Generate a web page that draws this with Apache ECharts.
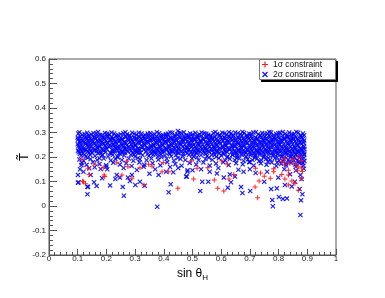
<!DOCTYPE html>
<html><head><meta charset="utf-8">
<script src="https://cdn.jsdelivr.net/npm/echarts@6/dist/echarts.min.js"></script>
<style>html,body{margin:0;padding:0;background:#fff}#c{width:385px;height:298px}</style>
</head><body><div id="c"></div>
<script>
var xTicks = [0,0.1,0.2,0.3,0.4,0.5,0.6,0.7,0.8,0.9,1];
var yTicks = [-0.2,-0.1,0,0.1,0.2,0.3,0.4,0.5,0.6];
var seriesNames = ['1σ constraint','2σ constraint'];

var blueBand = [
[0.102,0.296],[0.116,0.291],[0.133,0.299],[0.147,0.293],[0.164,0.297],[0.178,0.290],[0.195,0.298],[0.210,0.292],[0.227,0.296],[0.241,0.289],[0.259,0.297],[0.272,0.293],[0.290,0.299],[0.304,0.291],[0.322,0.296],[0.335,0.290],[0.353,0.298],[0.367,0.293],[0.384,0.297],[0.398,0.289],[0.415,0.295],[0.430,0.299],[0.447,0.292],[0.461,0.297],[0.479,0.290],[0.492,0.296],[0.510,0.299],[0.524,0.293],[0.541,0.297],[0.555,0.291],[0.573,0.298],[0.586,0.294],[0.604,0.299],[0.618,0.292],[0.635,0.297],[0.649,0.300],[0.667,0.293],[0.680,0.298],[0.698,0.295],[0.712,0.300],[0.729,0.293],[0.743,0.298],[0.761,0.296],[0.774,0.300],[0.792,0.294],[0.805,0.299],[0.823,0.295],[0.837,0.300],[0.854,0.294],[0.868,0.299],[0.885,0.296],
[0.109,0.284],[0.124,0.279],[0.140,0.286],[0.156,0.281],[0.171,0.287],[0.187,0.280],[0.202,0.285],[0.219,0.282],[0.234,0.287],[0.250,0.279],[0.265,0.284],[0.281,0.286],[0.297,0.280],[0.313,0.285],[0.328,0.282],[0.344,0.287],[0.360,0.279],[0.375,0.284],[0.391,0.281],[0.407,0.287],[0.422,0.280],[0.438,0.285],[0.454,0.282],[0.470,0.287],[0.485,0.279],[0.501,0.284],[0.517,0.281],[0.532,0.287],[0.548,0.280],[0.564,0.285],[0.579,0.282],[0.595,0.287],[0.611,0.280],[0.626,0.284],[0.642,0.286],[0.658,0.281],[0.673,0.287],[0.689,0.282],[0.705,0.285],[0.720,0.280],[0.736,0.286],[0.752,0.283],[0.767,0.287],[0.783,0.281],[0.799,0.285],[0.814,0.288],[0.830,0.282],[0.846,0.286],[0.861,0.281],[0.877,0.285],[0.889,0.289],
[0.101,0.271],[0.118,0.266],[0.132,0.273],[0.149,0.268],[0.162,0.274],[0.180,0.267],[0.193,0.272],[0.212,0.269],[0.225,0.275],[0.243,0.266],[0.257,0.271],[0.274,0.274],[0.288,0.268],[0.306,0.273],[0.320,0.266],[0.337,0.272],[0.351,0.269],[0.369,0.275],[0.382,0.267],[0.400,0.272],[0.413,0.269],[0.432,0.274],[0.445,0.267],[0.463,0.271],[0.477,0.274],[0.494,0.268],[0.508,0.273],[0.526,0.266],[0.539,0.272],[0.557,0.269],[0.571,0.275],[0.588,0.267],[0.602,0.272],[0.620,0.269],[0.633,0.274],[0.651,0.268],[0.665,0.273],[0.682,0.270],[0.696,0.275],[0.714,0.268],[0.727,0.273],[0.745,0.270],[0.759,0.275],[0.776,0.268],[0.790,0.273],[0.807,0.270],[0.821,0.275],[0.839,0.269],[0.852,0.274],[0.870,0.270],[0.884,0.273],
[0.108,0.258],[0.125,0.254],[0.139,0.261],[0.155,0.256],[0.172,0.262],[0.186,0.255],[0.203,0.259],[0.218,0.256],[0.233,0.262],[0.251,0.254],[0.264,0.259],[0.282,0.261],[0.296,0.255],[0.312,0.260],[0.329,0.256],[0.343,0.262],[0.361,0.254],[0.374,0.259],[0.392,0.256],[0.406,0.261],[0.423,0.255],[0.437,0.260],[0.455,0.257],[0.469,0.262],[0.486,0.254],[0.500,0.259],[0.518,0.256],[0.531,0.261],[0.549,0.255],[0.563,0.260],[0.580,0.257],[0.594,0.262],[0.612,0.255],[0.625,0.259],[0.643,0.261],[0.657,0.256],[0.674,0.262],[0.688,0.257],[0.706,0.260],[0.719,0.255],[0.737,0.261],[0.751,0.258],[0.768,0.262],[0.782,0.256],[0.800,0.260],[0.813,0.263],[0.831,0.257],[0.845,0.261],[0.862,0.256],[0.876,0.260],[0.888,0.258],
[0.103,0.245],[0.117,0.241],[0.134,0.248],[0.146,0.243],[0.165,0.249],[0.177,0.242],[0.196,0.246],[0.209,0.243],[0.228,0.249],[0.240,0.241],[0.260,0.246],[0.271,0.248],[0.291,0.242],[0.303,0.247],[0.323,0.243],[0.334,0.249],[0.354,0.241],[0.366,0.246],[0.385,0.243],[0.397,0.248],[0.416,0.242],[0.429,0.247],[0.448,0.244],[0.460,0.249],[0.480,0.241],[0.491,0.246],[0.511,0.243],[0.523,0.248],[0.542,0.242],[0.554,0.247],[0.574,0.244],[0.585,0.249],[0.605,0.242],[0.617,0.246],[0.636,0.248],[0.648,0.243],[0.668,0.249],[0.679,0.244],[0.699,0.247],[0.711,0.242],[0.730,0.248],[0.742,0.245],[0.762,0.249],[0.773,0.243],[0.793,0.247],[0.804,0.250],[0.824,0.244],[0.836,0.248],[0.855,0.243],[0.867,0.247],[0.886,0.245],
[0.110,0.232],[0.123,0.228],[0.141,0.235],[0.157,0.230],[0.170,0.236],[0.188,0.229],[0.201,0.233],[0.220,0.230],[0.235,0.236],[0.249,0.228],[0.266,0.233],[0.280,0.235],[0.298,0.229],[0.311,0.234],[0.330,0.230],[0.345,0.236],[0.359,0.228],[0.376,0.233],[0.390,0.230],[0.408,0.235],[0.421,0.229],[0.439,0.234],[0.453,0.231],[0.471,0.236],[0.484,0.228],[0.502,0.233],[0.516,0.230],[0.533,0.235],[0.547,0.229],[0.565,0.234],[0.578,0.231],[0.596,0.236],[0.610,0.229],[0.627,0.233],[0.641,0.235],[0.659,0.230],[0.672,0.236],[0.690,0.231],[0.704,0.234],[0.721,0.229],[0.735,0.235],[0.753,0.232],[0.766,0.236],[0.784,0.230],[0.798,0.234],[0.815,0.237],[0.829,0.231],[0.847,0.235],[0.860,0.230],[0.878,0.234],[0.890,0.232],
[0.104,0.219],[0.119,0.215],[0.135,0.222],[0.150,0.217],[0.166,0.223],[0.181,0.216],[0.197,0.220],[0.213,0.217],[0.229,0.223],[0.244,0.215],[0.256,0.220],[0.275,0.222],[0.292,0.216],[0.307,0.221],[0.319,0.217],[0.338,0.223],[0.355,0.215],[0.371,0.220],[0.386,0.217],[0.401,0.222],[0.418,0.216],[0.433,0.221],[0.449,0.218],[0.464,0.223],[0.481,0.215],[0.496,0.220],[0.512,0.217],[0.527,0.222],[0.543,0.216],[0.558,0.221],[0.575,0.218],[0.590,0.223],[0.606,0.216],[0.621,0.220],[0.637,0.222],[0.652,0.217],[0.669,0.223],[0.684,0.218],[0.700,0.221],[0.715,0.216],[0.731,0.222],[0.746,0.219],[0.763,0.223],[0.778,0.217],[0.794,0.221],[0.809,0.224],[0.825,0.218],[0.840,0.222],[0.856,0.217],[0.871,0.221],[0.887,0.219],
[0.112,0.206],[0.128,0.201],[0.143,0.209],[0.160,0.204],[0.184,0.207],[0.206,0.202],[0.222,0.208],[0.238,0.203],[0.262,0.206],[0.285,0.209],[0.300,0.202],[0.326,0.207],[0.348,0.204],[0.363,0.209],[0.379,0.201],[0.404,0.206],[0.426,0.203],[0.442,0.208],[0.466,0.204],[0.488,0.209],[0.504,0.202],[0.529,0.207],[0.551,0.204],[0.567,0.209],[0.583,0.201],[0.600,0.206],[0.623,0.203],[0.639,0.208],[0.655,0.204],[0.671,0.209],[0.687,0.202],[0.702,0.207],[0.718,0.204],[0.734,0.209],[0.749,0.203],[0.765,0.208],[0.781,0.205],[0.797,0.210],[0.812,0.204],[0.828,0.209],[0.843,0.205],[0.859,0.210],[0.874,0.205],[0.889,0.208],
[0.106,0.190],[0.121,0.185],[0.145,0.192],[0.168,0.188],[0.191,0.194],[0.215,0.186],[0.231,0.192],[0.254,0.188],[0.278,0.194],[0.294,0.185],[0.317,0.191],[0.340,0.187],[0.357,0.194],[0.381,0.189],[0.410,0.193],[0.435,0.186],[0.458,0.192],[0.475,0.188],[0.498,0.194],[0.521,0.187],[0.545,0.192],[0.569,0.189],[0.592,0.195],[0.614,0.186],[0.630,0.192],[0.647,0.188],[0.663,0.194],[0.678,0.185],[0.693,0.191],[0.709,0.188],[0.725,0.194],[0.740,0.187],[0.756,0.192],[0.771,0.189],[0.787,0.195],[0.802,0.186],[0.818,0.192],[0.834,0.188],[0.849,0.194],[0.865,0.187],[0.880,0.192],[0.890,0.184],
[0.114,0.176],[0.131,0.168],[0.153,0.179],[0.176,0.171],[0.199,0.166],[0.224,0.177],[0.247,0.169],[0.269,0.174],[0.288,0.163],[0.315,0.178],[0.332,0.168],[0.361,0.175],[0.388,0.166],[0.412,0.179],[0.440,0.171],[0.462,0.164],[0.490,0.176],[0.513,0.169],[0.538,0.178],[0.560,0.165],[0.582,0.173],[0.607,0.179],[0.626,0.167],[0.652,0.175],[0.675,0.170],[0.697,0.179],[0.713,0.165],[0.738,0.174],[0.758,0.168],[0.776,0.178],[0.792,0.163],[0.809,0.172],[0.826,0.166],[0.843,0.177],[0.858,0.169],[0.872,0.175],[0.886,0.164],[0.881,0.179]
];

var blueBandFill = [
[0.106,0.301],[0.124,0.294],[0.139,0.288],[0.155,0.297],[0.171,0.302],[0.186,0.290],[0.203,0.295],[0.218,0.300],[0.234,0.287],[0.250,0.293],[0.266,0.301],[0.281,0.289],[0.297,0.294],[0.313,0.299],[0.329,0.286],[0.344,0.296],[0.360,0.291],[0.376,0.301],[0.391,0.288],[0.407,0.294],[0.423,0.300],[0.438,0.290],[0.454,0.297],[0.470,0.301],[0.486,0.287],[0.501,0.293],[0.517,0.289],[0.532,0.300],[0.548,0.295],[0.564,0.288],[0.580,0.302],[0.595,0.291],[0.611,0.296],[0.627,0.301],[0.642,0.289],[0.658,0.297],[0.674,0.302],[0.689,0.290],[0.705,0.294],[0.721,0.301],[0.736,0.288],[0.752,0.295],[0.768,0.302],[0.783,0.290],[0.799,0.297],[0.815,0.302],[0.830,0.289],[0.846,0.294],[0.862,0.302],[0.877,0.290],
[0.100,0.279],[0.113,0.274],[0.129,0.282],[0.144,0.276],[0.160,0.281],[0.175,0.273],[0.191,0.279],[0.207,0.283],[0.222,0.275],[0.238,0.280],[0.254,0.273],[0.269,0.282],[0.285,0.277],[0.301,0.274],[0.316,0.281],[0.332,0.276],[0.348,0.283],[0.364,0.273],[0.379,0.279],[0.395,0.275],[0.411,0.282],[0.426,0.277],[0.442,0.273],[0.458,0.280],[0.473,0.276],[0.489,0.283],[0.505,0.274],[0.520,0.279],[0.536,0.275],[0.552,0.282],[0.567,0.277],[0.583,0.273],[0.599,0.280],[0.614,0.276],[0.630,0.283],[0.646,0.274],[0.661,0.279],[0.677,0.276],[0.693,0.282],[0.708,0.277],[0.724,0.274],[0.740,0.280],[0.755,0.276],[0.771,0.283],[0.787,0.275],[0.802,0.279],[0.818,0.276],[0.834,0.282],[0.849,0.277],[0.865,0.274],[0.881,0.280],
[0.107,0.265],[0.121,0.261],[0.137,0.269],[0.152,0.263],[0.168,0.267],[0.183,0.260],[0.199,0.266],[0.215,0.270],[0.230,0.262],[0.246,0.267],[0.262,0.260],[0.277,0.269],[0.293,0.264],[0.309,0.261],[0.324,0.268],[0.340,0.263],[0.356,0.270],[0.372,0.260],[0.387,0.266],[0.403,0.262],[0.419,0.269],[0.434,0.264],[0.450,0.260],[0.466,0.267],[0.481,0.263],[0.497,0.270],[0.513,0.261],[0.528,0.266],[0.544,0.262],[0.560,0.269],[0.575,0.264],[0.591,0.260],[0.607,0.267],[0.622,0.263],[0.638,0.270],[0.654,0.261],[0.669,0.266],[0.685,0.263],[0.701,0.269],[0.716,0.264],[0.732,0.261],[0.748,0.267],[0.763,0.263],[0.779,0.270],[0.795,0.262],[0.810,0.266],[0.826,0.263],[0.842,0.269],[0.857,0.264],[0.873,0.261],[0.889,0.267],
[0.100,0.252],[0.113,0.248],[0.130,0.256],[0.144,0.250],[0.159,0.254],[0.176,0.247],[0.191,0.253],[0.206,0.257],[0.223,0.249],[0.237,0.254],[0.254,0.247],[0.268,0.256],[0.286,0.251],[0.300,0.248],[0.316,0.255],[0.333,0.250],[0.347,0.257],[0.365,0.247],[0.379,0.253],[0.396,0.249],[0.410,0.256],[0.427,0.251],[0.441,0.247],[0.458,0.254],[0.473,0.250],[0.490,0.257],[0.504,0.248],[0.521,0.253],[0.535,0.249],[0.553,0.256],[0.567,0.251],[0.584,0.247],[0.598,0.254],[0.615,0.250],[0.629,0.257],[0.647,0.248],[0.661,0.253],[0.678,0.250],[0.692,0.256],[0.709,0.251],[0.723,0.248],[0.741,0.254],[0.755,0.250],[0.772,0.257],[0.786,0.249],[0.803,0.253],[0.817,0.250],[0.834,0.256],[0.849,0.251],[0.866,0.248],[0.880,0.254],
[0.106,0.239],[0.121,0.235],[0.137,0.243],[0.153,0.237],[0.168,0.241],[0.184,0.234],[0.199,0.240],[0.215,0.244],[0.231,0.236],[0.246,0.241],[0.262,0.234],[0.278,0.243],[0.293,0.238],[0.309,0.235],[0.325,0.242],[0.340,0.237],[0.356,0.244],[0.372,0.234],[0.387,0.240],[0.403,0.236],[0.419,0.243],[0.434,0.238],[0.450,0.234],[0.466,0.241],[0.481,0.237],[0.497,0.244],[0.513,0.235],[0.528,0.240],[0.544,0.236],[0.560,0.243],[0.575,0.238],[0.591,0.234],[0.607,0.241],[0.622,0.237],[0.638,0.244],[0.654,0.235],[0.669,0.240],[0.685,0.237],[0.701,0.243],[0.716,0.238],[0.732,0.235],[0.748,0.241],[0.763,0.237],[0.779,0.244],[0.795,0.236],[0.810,0.240],[0.826,0.237],[0.842,0.243],[0.857,0.238],[0.873,0.235],[0.889,0.241],
[0.101,0.226],[0.114,0.222],[0.129,0.230],[0.145,0.224],[0.161,0.228],[0.176,0.221],[0.192,0.227],[0.223,0.223],[0.239,0.228],[0.255,0.221],[0.270,0.230],[0.286,0.225],[0.302,0.222],[0.317,0.229],[0.349,0.231],[0.364,0.221],[0.380,0.227],[0.395,0.223],[0.411,0.230],[0.427,0.225],[0.442,0.221],[0.473,0.224],[0.489,0.231],[0.505,0.222],[0.520,0.227],[0.536,0.223],[0.552,0.230],[0.567,0.225],[0.583,0.221],[0.614,0.224],[0.630,0.231],[0.646,0.222],[0.661,0.227],[0.677,0.224],[0.693,0.230],[0.708,0.225],[0.724,0.222],[0.740,0.228],[0.755,0.224],[0.771,0.231],[0.787,0.223],[0.802,0.227],[0.818,0.224],[0.834,0.230],[0.849,0.225],[0.865,0.222],[0.881,0.228],
[0.108,0.213],[0.124,0.209],[0.140,0.217],[0.171,0.215],[0.187,0.208],[0.218,0.214],[0.249,0.212],[0.265,0.217],[0.296,0.209],[0.312,0.216],[0.343,0.211],[0.374,0.213],[0.390,0.210],[0.421,0.212],[0.452,0.215],[0.468,0.211],[0.499,0.209],[0.515,0.214],[0.546,0.212],[0.577,0.208],[0.593,0.215],[0.609,0.211],[0.640,0.209],[0.656,0.214],[0.671,0.211],[0.687,0.217],[0.703,0.212],[0.719,0.209],[0.734,0.215],[0.750,0.211],[0.766,0.218],[0.781,0.210],[0.797,0.214],[0.813,0.211],[0.828,0.217],[0.844,0.212],[0.860,0.209],[0.875,0.215],[0.889,0.212],
[0.135,0.197],[0.176,0.195],[0.240,0.198],[0.310,0.196],[0.392,0.199],[0.448,0.196],[0.515,0.199],[0.557,0.197],[0.620,0.199],[0.655,0.196],[0.686,0.200],[0.717,0.197],[0.748,0.199],[0.764,0.195],[0.795,0.198],[0.811,0.201],[0.826,0.196],[0.842,0.200],[0.857,0.197],[0.873,0.199],[0.888,0.196],
[0.700,0.180],[0.732,0.183],[0.763,0.181],[0.795,0.178],[0.815,0.183],[0.838,0.180],[0.852,0.185],[0.870,0.182],[0.885,0.176],[0.826,0.173],[0.860,0.160],[0.888,0.152]
];

var blueTail = [
[0.377,-0.003],[0.134,0.048],[0.261,0.042],[0.417,0.056],[0.424,0.089],[0.103,0.097],[0.157,0.097],[0.166,0.082],[0.136,0.078],[0.213,0.084],[0.257,0.078],[0.301,0.086],[0.333,0.083],[0.282,0.102],[0.317,0.099],[0.185,0.113],[0.231,0.110],[0.108,0.150],[0.120,0.140],[0.140,0.154],[0.159,0.158],[0.180,0.151],[0.203,0.150],[0.236,0.127],[0.247,0.116],[0.275,0.116],[0.289,0.127],[0.306,0.147],[0.350,0.132],[0.382,0.127],[0.408,0.140],[0.433,0.138],[0.422,0.159],[0.480,0.120],[0.482,0.140],[0.101,0.127],[0.145,0.127],[0.113,0.167],[0.449,0.306],
[0.876,-0.037],[0.780,-0.001],[0.778,0.024],[0.801,0.037],[0.815,0.029],[0.829,0.031],[0.878,0.023],[0.701,0.061],[0.674,0.053],[0.669,0.078],[0.623,0.075],[0.634,0.097],[0.527,0.061],[0.534,0.099],[0.555,0.099],[0.483,0.146],[0.500,0.146],[0.585,0.133],[0.609,0.116],[0.630,0.129],[0.648,0.120],[0.678,0.140],[0.750,0.099],[0.774,0.069],[0.794,0.072],[0.822,0.086],[0.846,0.080],[0.873,0.069],[0.883,0.048],[0.857,0.099],[0.876,0.127],[0.799,0.116],[0.478,0.120],[0.101,0.095],[0.134,0.079],
[0.530,0.150],[0.560,0.140],[0.700,0.150],[0.720,0.135],[0.760,0.140],[0.820,0.150],[0.840,0.130],[0.860,0.145],[0.880,0.110],[0.590,0.155],[0.660,0.148],[0.450,0.155],[0.370,0.150],[0.260,0.155],[0.200,0.160],[0.330,0.160]
];

var red1sigma = [
[0.115,0.189],[0.136,0.154],[0.140,0.129],[0.120,0.099],[0.127,0.091],[0.189,0.156],[0.192,0.127],[0.194,0.120],[0.161,0.170],[0.236,0.177],[0.271,0.184],[0.275,0.160],[0.254,0.127],[0.289,0.113],[0.317,0.156],[0.347,0.170],[0.359,0.162],[0.331,0.086],[0.394,0.140],[0.398,0.178],[0.417,0.140],[0.449,0.072],[0.117,0.101],
[0.727,0.034],[0.609,0.061],[0.588,0.072],[0.718,0.078],[0.504,0.110],[0.576,0.106],[0.627,0.110],[0.644,0.129],[0.732,0.102],[0.750,0.121],[0.771,0.113],[0.783,0.140],[0.811,0.129],[0.822,0.110],[0.834,0.127],[0.846,0.102],[0.857,0.093],[0.869,0.064],[0.880,0.113],[0.811,0.181],[0.822,0.170],[0.869,0.160],[0.880,0.155],[0.497,0.184],[0.516,0.154],[0.553,0.156],[0.602,0.184],[0.720,0.154],[0.737,0.135],[0.783,0.152],[0.834,0.146],[0.866,0.144],[0.883,0.141],[0.834,0.086],[0.622,0.170],
[0.850,0.190],[0.870,0.200],[0.840,0.175],[0.880,0.185],[0.860,0.170],[0.820,0.195]
];

var xPath = 'path://M0,1.6L1.6,0L5,3.4L8.4,0L10,1.6L6.6,5L10,8.4L8.4,10L5,6.6L1.6,10L0,8.4L3.4,5Z';
var plusPath = 'path://M4,0H6V4H10V6H6V10H4V6H0V4H4Z';

function fmt(v){ return String(+(+v).toFixed(1)); }

var chart = echarts.init(document.getElementById('c'), null, {renderer:'canvas'});
var FONT = 'Liberation Sans';
chart.setOption({
  animation: false,
  backgroundColor: '#fff',
  textStyle: {fontFamily: FONT},
  grid: {left: 49, right: 49, top: 59, bottom: 43, show: true, borderColor: '#555', borderWidth: 1, backgroundColor: 'transparent'},
  xAxis: {
    type: 'value', min: xTicks[0], max: xTicks[xTicks.length-1], interval: 0.1,
    axisLine: {show: true, onZero: false, lineStyle: {color: '#555', width: 1}},
    axisTick: {show: true, inside: true, length: 6, lineStyle: {color: '#555'}},
    minorTick: {show: true, splitNumber: 5, length: 3, lineStyle: {color: '#555'}},
    splitLine: {show: false},
    axisLabel: {fontSize: 8, color: '#222', margin: 0, fontFamily: FONT, formatter: fmt},
    name: '{a|sin θ}{b|H}', nameLocation: 'middle', nameGap: 3,
    nameTextStyle: {rich: {a: {fontSize: 12, lineHeight: 16, color: '#000', fontFamily: FONT}, b: {fontSize: 8, lineHeight: 8, verticalAlign: 'bottom', color: '#000', fontFamily: FONT}}}
  },
  yAxis: {
    type: 'value', min: yTicks[0], max: yTicks[yTicks.length-1], interval: 0.1,
    axisLine: {show: true, onZero: false, lineStyle: {color: '#555', width: 1}},
    axisTick: {show: true, inside: true, length: 8, lineStyle: {color: '#555'}},
    minorTick: {show: true, splitNumber: 5, length: 4, lineStyle: {color: '#555'}},
    splitLine: {show: false},
    axisLabel: {fontSize: 8, color: '#222', margin: 3, fontFamily: FONT, formatter: fmt},
    name: 'T\u0303', nameLocation: 'middle', nameGap: 18, nameRotate: 90, nameMoveOverlap: false,
    nameTextStyle: {fontSize: 13, color: '#000', fontFamily: FONT}
  },
  graphic: [
    {type: 'rect', z: 20, silent: true, shape: {x: 261, y: 61, width: 77, height: 21}, style: {fill: '#000'}},
    {type: 'rect', z: 21, silent: true, shape: {x: 259.5, y: 59.5, width: 76, height: 20}, style: {fill: '#fff', stroke: '#777', lineWidth: 1}}
  ],
  legend: {
    z: 30, orient: 'vertical', left: 262, top: 60, itemWidth: 6, itemHeight: 6, itemGap: 1,
    padding: 0,
    textStyle: {fontSize: 8.5, color: '#111', fontFamily: FONT, lineHeight: 9},
    data: [
      {name: seriesNames[0], icon: plusPath, itemStyle: {color: '#ff0000'}},
      {name: seriesNames[1], icon: xPath, itemStyle: {color: '#0000ff'}}
    ],
    selectedMode: false
  },
  series: [
    {name: seriesNames[1], type: 'scatter', symbol: xPath, symbolSize: 5, itemStyle: {color: '#0000ff', opacity: 0.9}, data: blueBand.concat(blueBandFill, blueTail), silent: true, z: 2},
    {name: seriesNames[0], type: 'scatter', symbol: plusPath, symbolSize: 5, itemStyle: {color: '#ff1010', opacity: 0.9}, data: red1sigma, silent: true, z: 3}
  ]
});
</script></body></html>
